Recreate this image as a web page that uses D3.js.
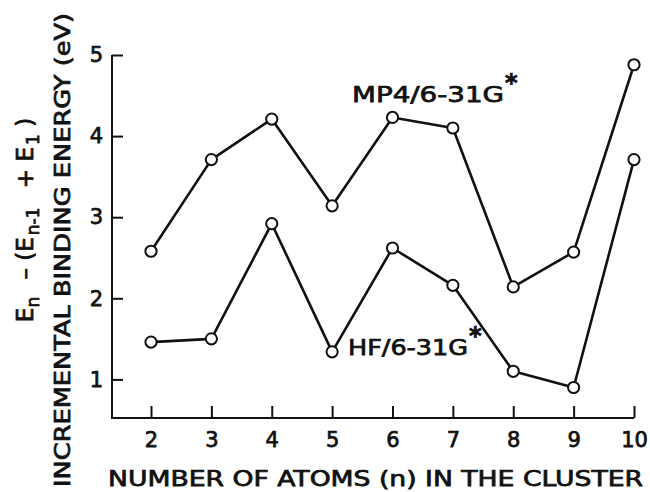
<!DOCTYPE html>
<html>
<head>
<meta charset="utf-8">
<script src="https://cdn.jsdelivr.net/npm/d3@7"></script>
<style>
  html, body { margin: 0; padding: 0; background: #fff; }
  svg text { font-family: "DejaVu Sans", "Liberation Sans", sans-serif; font-weight: normal;
             fill: #111; stroke: #111; stroke-width: 0.75px; }
</style>
</head>
<body>
<svg id="chart" width="650" height="492"></svg>
<script>
// Incremental binding energy of clusters vs. cluster size
const nAtoms = [2, 3, 4, 5, 6, 7, 8, 9, 10];
const mp4Energy = [2.58, 3.71, 4.21, 3.14, 4.23, 4.10, 2.14, 2.57, 4.88];
const hfEnergy  = [1.46, 1.50, 2.92, 1.34, 2.62, 2.16, 1.10, 0.90, 3.71];
const xTicks = [2, 3, 4, 5, 6, 7, 8, 9, 10];
const yTicks = [1, 2, 3, 4, 5];
const seriesNames = ["MP4/6-31G", "HF/6-31G"];

const svg = d3.select("#chart");
const ink = "#111";
const fontFamily = "'DejaVu Sans', 'Liberation Sans', sans-serif";

const x = d3.scaleLinear().domain([1.354, 10]).range([112, 634]);
const y = d3.scaleLinear().domain([0.524, 5]).range([418, 55]);

// Axes: ticks point inward, custom axis lines
const xAxis = d3.axisBottom(x).tickValues(xTicks).tickFormat(d3.format("d"))
  .tickSizeInner(-12).tickSizeOuter(0).tickPadding(14);
const yAxis = d3.axisLeft(y).tickValues(yTicks).tickFormat(d3.format("d"))
  .tickSizeInner(-11).tickSizeOuter(0).tickPadding(9);

const gx = svg.append("g").attr("transform", `translate(0,${y.range()[0]})`).call(xAxis);
const gy = svg.append("g").attr("transform", `translate(${x.range()[0]},0)`).call(yAxis);
[gx, gy].forEach(g => {
  g.select(".domain").remove();
  g.selectAll(".tick line").attr("stroke", ink).attr("stroke-width", 2);
  g.selectAll(".tick text").attr("font-size", 21).attr("fill", ink)
    .style("font-family", fontFamily);
});

// L-shaped frame
svg.append("path")
  .attr("d", d3.line()([[x.range()[0], y.range()[1]], [x.range()[0], y.range()[0]], [x.range()[1], y.range()[0]]]))
  .attr("fill", "none").attr("stroke", ink).attr("stroke-width", 2).attr("stroke-linejoin", "miter");

// Series lines and open markers
const line = d3.line().x((d, i) => x(nAtoms[i])).y(d => y(d));
[mp4Energy, hfEnergy].forEach(series => {
  svg.append("path").datum(series).attr("d", line)
    .attr("fill", "none").attr("stroke", ink).attr("stroke-width", 2.6).attr("stroke-linejoin", "round");
  svg.append("g").selectAll("circle").data(series).join("circle")
    .attr("cx", (d, i) => x(nAtoms[i])).attr("cy", d => y(d)).attr("r", 5.6)
    .attr("fill", "#fff").attr("stroke", ink).attr("stroke-width", 2);
});

// Series labels
function seriesLabel(name, lx, ly, len) {
  const t = svg.append("text").attr("x", lx).attr("y", ly).attr("font-size", 22);
  t.append("tspan").text(name).attr("textLength", len).attr("lengthAdjust", "spacingAndGlyphs");
  t.append("tspan").text("*").attr("dx", 1).attr("dy", -11).attr("font-size", 24).attr("font-weight", "bold");
}
seriesLabel(seriesNames[0], 352, 102, 152);
seriesLabel(seriesNames[1], 348, 355, 120);

// X axis title
svg.append("text").attr("x", 108).attr("y", 486).attr("font-size", 21)
  .attr("textLength", 535).attr("lengthAdjust", "spacingAndGlyphs")
  .text("NUMBER OF ATOMS (n) IN THE CLUSTER");

// Y axis title, two rotated lines
svg.append("text").attr("transform", "translate(70,250) rotate(-90)")
  .attr("text-anchor", "middle").attr("font-size", 22)
  .attr("textLength", 474).attr("lengthAdjust", "spacingAndGlyphs")
  .text("INCREMENTAL BINDING ENERGY (eV)");

const t1 = svg.append("text").attr("transform", "translate(33,220) rotate(-90)")
  .attr("text-anchor", "middle").attr("font-size", 23);
t1.append("tspan").text("E");
t1.append("tspan").text("n").attr("font-size", 17).attr("dy", 6);
t1.append("tspan").text(" \u2013 (E").attr("dy", -6).attr("dx", 10);
t1.append("tspan").text("n-1").attr("font-size", 17).attr("dy", 6).attr("dx", 2);
t1.append("tspan").text(" + E").attr("dy", -6).attr("dx", 12);
t1.append("tspan").text("1").attr("font-size", 17).attr("dy", 6).attr("dx", 2);
t1.append("tspan").text(" )").attr("dy", -6);
</script>
</body>
</html>
